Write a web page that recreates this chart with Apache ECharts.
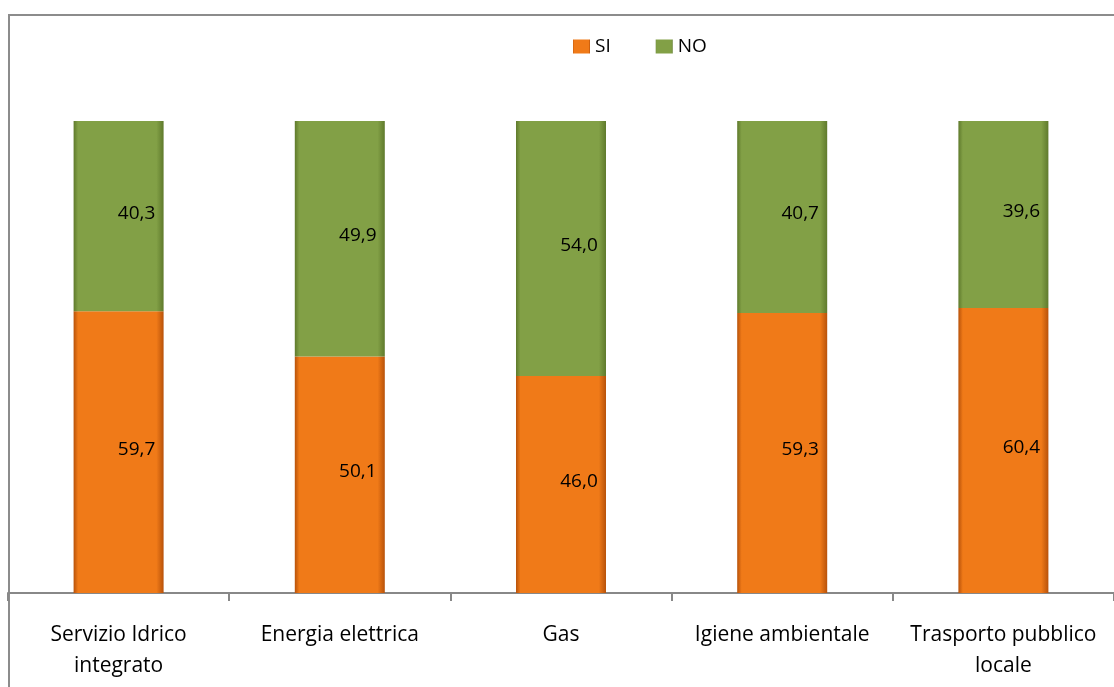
<!DOCTYPE html>
<html>
  <head>
    <meta charset="utf-8" />
    <script src="https://cdn.jsdelivr.net/npm/echarts@6.0.0/dist/echarts.min.js"></script>
    <style>
      html, body { margin: 0; padding: 0; background: #fff; }
    </style>
  </head>
  <body>
    <div id="main" style="width: 1114px;height:687px;"></div>
    <script type="text/javascript">
      var categories = ['Servizio Idrico\nintegrato', 'Energia elettrica', 'Gas', 'Igiene ambientale', 'Trasporto pubblico\nlocale'];
      var siValues = [59.7, 50.1, 46.0, 59.3, 60.4];
      var noValues = [40.3, 49.9, 54.0, 40.7, 39.6];

      var myChart = echarts.init(document.getElementById('main'));

      // gradiente orizzontale per imitare il bordo smussato di Excel
      function bevel(edge, main) {
        return new echarts.graphic.LinearGradient(0, 0, 1, 0, [
          { offset: 0, color: edge },
          { offset: 0.05, color: main },
          { offset: 0.92, color: main },
          { offset: 1, color: edge }
        ]);
      }

      function fmt(p) {
        return p.value.toFixed(1).replace('.', ',');
      }

      var labelStyle = {
        show: true,
        position: 'inside',
        offset: [18, -3],
        formatter: fmt,
        color: '#000',
        fontFamily: 'Open Sans',
        fontSize: 19
      };

      option = {
        animation: false,
        textStyle: { fontFamily: 'Open Sans' },
        graphic: [
          {
            type: 'rect',
            shape: { x: 9, y: 15, width: 1200, height: 800 },
            style: { fill: 'none', stroke: '#8c8c8c', lineWidth: 2 },
            z: -1
          }
        ],
        legend: {
          top: 32,
          left: 568,
          itemWidth: 17,
          itemHeight: 14,
          itemGap: 45,
          icon: 'rect',
          textStyle: { fontSize: 19, color: '#000', fontFamily: 'Open Sans' },
          data: ['SI', 'NO']
        },
        grid: { left: 8, top: 121, width: 1111, height: 472, containLabel: false },
        xAxis: {
          type: 'category',
          data: categories,
          axisLine: { show: true, lineStyle: { color: '#888', width: 2 } },
          axisTick: { show: true, inside: false, length: 8, lineStyle: { color: '#888', width: 2 } },
          axisLabel: {
            color: '#000',
            fontSize: 21,
            lineHeight: 31,
            margin: 27,
            interval: 0,
            fontFamily: 'Open Sans'
          }
        },
        yAxis: {
          type: 'value',
          min: 0,
          max: 100,
          show: false
        },
        series: [
          {
            name: 'SI',
            type: 'bar',
            stack: 'tot',
            barWidth: 90,
            data: siValues,
            itemStyle: { color: bevel('#b8520a', '#f07a18') },
            label: labelStyle
          },
          {
            name: 'NO',
            type: 'bar',
            stack: 'tot',
            barWidth: 90,
            data: noValues,
            itemStyle: { color: bevel('#5f7a2c', '#82a046') },
            label: labelStyle
          }
        ]
      };

      myChart.setOption(option);
    </script>
  </body>
</html>
